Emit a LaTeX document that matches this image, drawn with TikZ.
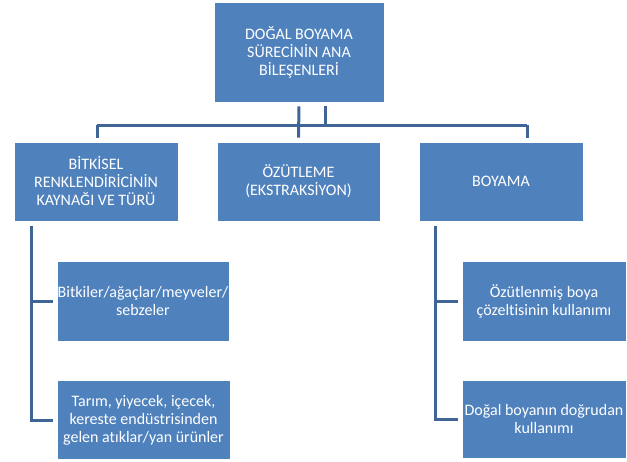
\documentclass[tikz,border=0pt]{standalone}
\usepackage{fontspec}
\setmainfont{Carlito}[Ligatures=NoCommon]
\usepackage{tikz}
\usetikzlibrary{positioning, calc}
\definecolor{boxblue}{RGB}{79,129,189}
\definecolor{linkblue}{RGB}{62,101,150}
\tikzset{
  box/.style={rectangle, draw=white, fill=boxblue, text=white,
    align=center, inner sep=0pt, line width=0.8pt,
    font=\fontsize{16}{18}\selectfont},
  conn/.style={draw=linkblue, line width=3pt}
}
\begin{document}
\begin{tikzpicture}[x=1pt, y=-1pt]
  \useasboundingbox (0,0) rectangle (627,461);
  \node[box, minimum width=170pt, minimum height=100pt] (top) at (299,52)
    {DOĞAL BOYAMA\\SÜRECİNİN ANA\\BİLEŞENLERİ};
  \node[box, minimum width=164pt, minimum height=79pt] (kaynak) at (96,181.5)
    {BİTKİSEL\\RENKLENDİRİCİNİN\\KAYNAĞI VE TÜRÜ};
  \node[box, minimum width=163pt, minimum height=79pt] (ozut) at (298.5,181.5)
    {ÖZÜTLEME\\(EKSTRAKSİYON)};
  \node[box, minimum width=164pt, minimum height=79pt] (boyama) at (501,181.5)
    {BOYAMA};
  \node[box, minimum width=172pt, minimum height=80pt] (bitki) at (143,301)
    {Bitkiler/ağaçlar/meyveler/\\sebzeler};
  \node[box, minimum width=173pt, minimum height=79pt] (atik) at (143.5,420)
    {Tarım, yiyecek, içecek,\\kereste endüstrisinden\\gelen atıklar/yan ürünler};
  \node[box, minimum width=164pt, minimum height=80pt] (cozelti) at (544,301)
    {Özütlenmiş boya\\çözeltisinin kullanımı};
  \node[box, minimum width=164pt, minimum height=78pt] (dogrudan) at (544,419)
    {Doğal boyanın doğrudan\\kullanımı};
  \coordinate (busL) at (97,125);
  \coordinate (busR) at (527,125);
  \coordinate (spineL) at (31,221);
  \coordinate (spineR) at (435,221);
  \draw[conn] (busL) -- (busR);
  \draw[conn, shorten <=4pt] ([xshift=26pt]top.south) -- ([xshift=26pt]top.south |- busL);
  \draw[conn, shorten <=4pt, shorten >=4pt] (top.south) -- (ozut.north);
  \draw[conn, shorten <=4pt] (kaynak.north -| busL) -- (busL);
  \draw[conn, shorten <=4pt] (boyama.north -| busR) -- (busR);
  \draw[conn, shorten <=5pt, shorten >=4pt] (spineL) |- (atik.west);
  \draw[conn, shorten >=4pt] (spineL |- bitki.west) -- (bitki.west);
  \draw[conn, shorten <=5pt, shorten >=4pt] (spineR) |- (dogrudan.west);
  \draw[conn, shorten >=4pt] (spineR |- cozelti.west) -- (cozelti.west);
\end{tikzpicture}
\end{document}
